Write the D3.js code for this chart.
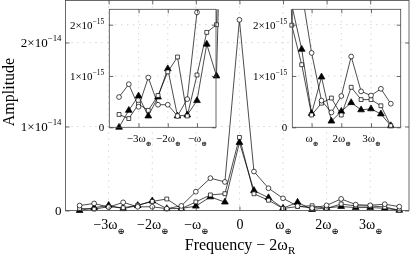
<!DOCTYPE html>
<html>
<head>
<meta charset="utf-8">
<script src="https://cdn.jsdelivr.net/npm/d3@7"></script>
<style>
  body { margin: 0; background: #fff; }
  svg { display: block; font-family: "Liberation Serif", "DejaVu Serif", serif; will-change: transform; }
</style>
</head>
<body>
<svg id="chart"></svg>
<script>
// frequency offsets, in units of omega/3
var freqSteps = [-11, -10, -9, -8, -7, -6, -5, -4, -3, -2, -1, 0, 1, 2, 3, 4, 5, 6, 7, 8, 9, 10, 11];
// amplitudes, in units of 1e-15
var circleAmp = [0.59, 0.84, 0.40, 0.97, 0.44, 0.44, 0.22, 0.55, 2.24, 3.85, 3.4, 22.7, 4.64, 2.65, 1.45, 0.52, 0.29, 0.61, 1.38, 0.70, 0.62, 0.75, 0.46];
var squareAmp = [0.25, 0.17, 0.45, 0.33, 0.62, 1.08, 1.37, 0.22, 1.02, 1.85, 2.0, 8.7, 1.99, 1.22, 0.24, 0.47, 0.57, 0.24, 0.78, 0.54, 0.54, 0.42, 0.03];
var triangleAmp = [0.0, 0.33, 0.61, 0.22, 0.59, 1.14, 0.22, 0.24, 0.52, 1.62, 1.0, 8.1, 2.38, 1.52, 0.27, 0.98, 0.12, 0.31, 0.48, 0.34, 0.36, 0.26, 0.03];

var mainXTicks = [-3, -2, -1, 0, 1, 2, 3];
var leftXTicks = [-3, -2, -1];
var rightXTicks = [1, 2, 3];
var mainYTicks = [0, 10, 20];   // 0, 1e-14, 2e-14
var insetYTicks = [0, 1, 2];    // 0, 1e-15, 2e-15

var svgWidth = 415, svgHeight = 263;

var svg = d3.select('#chart')
    .attr('width', svgWidth)
    .attr('height', svgHeight);

var series = [
    { vals: triangleAmp, type: d3.symbolTriangle, size: 20, fill: '#000' },
    { vals: squareAmp, type: d3.symbolSquare, size: 15, fill: '#fff' },
    { vals: circleAmp, type: d3.symbolCircle, size: 18, fill: '#fff' }
];

function omegaLabel(text, k, fs) {
    text.text('');
    if (k === 0) { text.text('0'); return; }
    var n = Math.abs(k);
    text.append('tspan').text((k < 0 ? '\u2212' : '') + (n === 1 ? '' : n) + '\u03c9');
    text.append('tspan')
        .attr('font-family', 'DejaVu Serif')
        .attr('dy', fs * 0.35)
        .attr('font-size', fs * 0.62)
        .text('\u2295');
}

function sciLabel(text, mant, exp, fs) {
    text.text('');
    if (mant === 0) { text.text('0'); return; }
    text.append('tspan').text(mant + '\u00d710');
    text.append('tspan').attr('dy', -fs * 0.45).attr('font-size', fs * 0.68).text('\u2212' + exp);
}

function drawPanel(id, x, y, opts) {
    var x0 = x.range()[0], x1 = x.range()[1];
    var y0 = y.range()[1], y1 = y.range()[0];
    var g = svg.append('g');

    g.append('rect')
        .attr('x', x0).attr('y', y0)
        .attr('width', x1 - x0).attr('height', y1 - y0)
        .attr('fill', '#fff');

    g.append('clipPath').attr('id', id)
        .append('rect')
        .attr('x', x0 - 4).attr('y', y0)
        .attr('width', x1 - x0 + 8).attr('height', y1 - y0 + 4);

    // dotted grid
    g.selectAll('.vgrid')
        .data(opts.xTicks)
        .enter()
        .append('line')
        .attr('x1', function (d) { return x(d); })
        .attr('x2', function (d) { return x(d); })
        .attr('y1', y0).attr('y2', y1)
        .attr('stroke', '#aaa')
        .attr('stroke-width', 0.7)
        .attr('stroke-dasharray', '1,5');

    g.selectAll('.hgrid')
        .data(opts.yTicks.slice(1))
        .enter()
        .append('line')
        .attr('y1', function (d) { return y(d); })
        .attr('y2', function (d) { return y(d); })
        .attr('x1', x0).attr('x2', x1)
        .attr('stroke', '#aaa')
        .attr('stroke-width', 0.7)
        .attr('stroke-dasharray', '1,5');

    var plot = g.append('g').attr('clip-path', 'url(#' + id + ')');

    var line = d3.line()
        .x(function (d, i) { return x(freqSteps[i] / 3); })
        .y(function (d) { return y(d); });

    series.forEach(function (s) {
        plot.append('path')
            .datum(s.vals)
            .attr('fill', 'none')
            .attr('stroke', '#000')
            .attr('stroke-width', 0.7)
            .attr('d', line);
    });

    series.forEach(function (s) {
        var sym = d3.symbol().type(s.type).size(s.size);
        plot.selectAll(null)
            .data(s.vals)
            .enter()
            .append('path')
            .attr('transform', function (d, i) {
                return 'translate(' + x(freqSteps[i] / 3) + ',' + y(d) + ')';
            })
            .attr('d', sym)
            .attr('fill', s.fill)
            .attr('stroke', '#000')
            .attr('stroke-width', 0.7);
    });

    // frame
    g.append('rect')
        .attr('x', x0).attr('y', y0)
        .attr('width', x1 - x0).attr('height', y1 - y0)
        .attr('fill', 'none')
        .attr('stroke', '#444')
        .attr('stroke-width', 0.8);

    var t = 4;
    var fs = opts.fontSize, yfs = opts.yFontSize;

    var xb = g.append('g')
        .attr('transform', 'translate(0,' + y1 + ')')
        .call(d3.axisBottom(x).tickValues(opts.xTicks).tickSizeInner(-t).tickSizeOuter(0).tickPadding(opts.xPad));
    g.append('g')
        .attr('transform', 'translate(0,' + y0 + ')')
        .call(d3.axisTop(x).tickValues(opts.xTicks).tickSizeInner(-t).tickSizeOuter(0).tickFormat(''));
    var yl = g.append('g')
        .attr('transform', 'translate(' + x0 + ',0)')
        .call(d3.axisLeft(y).tickValues(opts.yTicks).tickSizeInner(-t).tickSizeOuter(0).tickPadding(opts.yPad));
    g.append('g')
        .attr('transform', 'translate(' + x1 + ',0)')
        .call(d3.axisRight(y).tickValues(opts.yTicks).tickSizeInner(-t).tickSizeOuter(0).tickFormat(''));

    // let the axes inherit the serif font
    g.selectAll('g').attr('font-family', null);
    g.selectAll('.domain').remove();
    g.selectAll('.tick line').attr('stroke', '#444').attr('stroke-width', 0.8);

    xb.selectAll('.tick text')
        .attr('font-size', fs)
        .attr('fill', '#000')
        .attr('dy', '0.71em')
        .each(function (d) { omegaLabel(d3.select(this), d, fs); });

    yl.selectAll('.tick text')
        .attr('font-size', yfs)
        .attr('fill', '#000')
        .each(function (d) { sciLabel(d3.select(this), d / opts.yUnit, opts.yExp, yfs); });
}

// main axes
var xMain = d3.scaleLinear().domain([-3.99, 3.89]).range([65.5, 409]);
var yMain = d3.scaleLinear().domain([0, 25]).range([210.5, 0.5]);
drawPanel('clipMain', xMain, yMain, {
    xTicks: mainXTicks, yTicks: mainYTicks, yUnit: 10, yExp: 14,
    fontSize: 14, yFontSize: 13, xPad: 9, yPad: 4
});

// insets
var yInset = d3.scaleLinear().domain([0, 2.3]).range([127.3, 9.3]);
var xLeft = d3.scaleLinear().domain([-4, -0.35]).range([109.3, 216]);
drawPanel('clipLeft', xLeft, yInset.copy(), {
    xTicks: leftXTicks, yTicks: insetYTicks, yUnit: 1, yExp: 15,
    fontSize: 11, yFontSize: 11, xPad: 7, yPad: 5
});
var xRight = d3.scaleLinear().domain([0.35, 4]).range([292.3, 400.7]);
drawPanel('clipRight', xRight, yInset.copy(), {
    xTicks: rightXTicks, yTicks: insetYTicks, yUnit: 1, yExp: 15,
    fontSize: 11, yFontSize: 11, xPad: 7, yPad: 5
});

// axis titles
var xTitle = svg.append('text')
    .attr('x', 240)
    .attr('y', 250)
    .attr('text-anchor', 'middle')
    .attr('font-size', 16);
xTitle.append('tspan').text('Frequency \u2212 2\u03c9');
xTitle.append('tspan').attr('dy', 4).attr('font-size', 11).text('R');

svg.append('text')
    .attr('transform', 'translate(14,92) rotate(-90)')
    .attr('text-anchor', 'middle')
    .attr('font-size', 16)
    .text('Amplitude');
</script>
</body>
</html>
